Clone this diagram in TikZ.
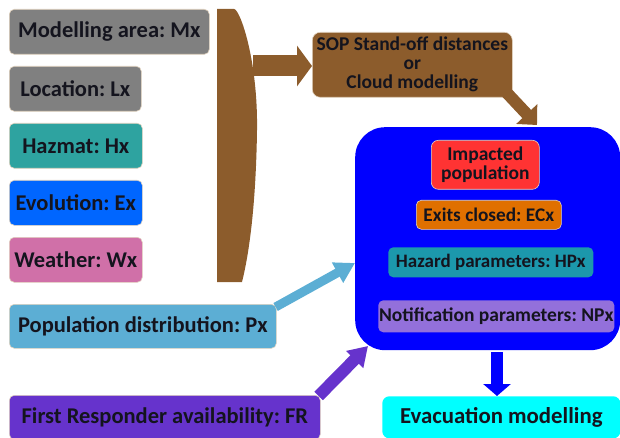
\documentclass[tikz,border=0pt]{standalone}
\usepackage{fontspec}
\setmainfont{Carlito}
\frenchspacing
\usetikzlibrary{arrows.meta,calc}
\definecolor{cgray}{RGB}{128,128,128}
\definecolor{cteal}{RGB}{46,163,160}
\definecolor{cevo}{RGB}{0,102,255}
\definecolor{cpink}{RGB}{208,112,168}
\definecolor{cpop}{RGB}{92,174,212}
\definecolor{cfr}{RGB}{102,51,204}
\definecolor{cbrown}{RGB}{140,92,44}
\definecolor{cbig}{RGB}{0,0,255}
\definecolor{cred}{RGB}{255,51,51}
\definecolor{corange}{RGB}{224,112,0}
\definecolor{chaz}{RGB}{28,152,172}
\definecolor{clav}{RGB}{147,112,219}
\definecolor{ccyan}{RGB}{0,255,255}
\definecolor{ctext}{RGB}{20,20,30}
\definecolor{cedge}{RGB}{225,210,190}
\tikzset{
  box/.style={draw=cedge, line width=0.6pt, rounded corners=5pt, inner sep=0pt,
    anchor=north west, text=ctext, font=\fontsize{22.5}{24}\selectfont\bfseries, align=center},
}
\begin{document}
\begin{tikzpicture}[x=1pt,y=-1pt]
\useasboundingbox (0,0) rectangle (620,438);
% left column
\node[box, fill=cgray, minimum width=200pt, minimum height=45pt] (ma) at (9,9) {Modelling area: Mx};
\node[box, fill=cgray, minimum width=132pt, minimum height=45pt] (lo) at (9,66) {Location: Lx};
\node[box, fill=cteal, minimum width=133pt, minimum height=45pt] (hz) at (9,123) {Hazmat: Hx};
\node[box, fill=cevo, minimum width=133pt, minimum height=45pt] (ev) at (9,180) {Evolution: Ex};
\node[box, fill=cpink, minimum width=133pt, minimum height=45pt] (we) at (9,237) {Weather: Wx};
\node[box, fill=cpop, minimum width=267pt, minimum height=44pt] (pd) at (9,304) {Population distribution: Px};
\node[box, fill=cfr, minimum width=311pt, minimum height=44pt] (fr) at (9,395) {First Responder availability: FR};
% bracket
\fill[cbrown] (217,282) -- (217,9) -- (234,9) .. controls (240,9) and (258,60) .. (257,130)
  .. controls (256,200) and (250,250) .. (242,282) -- cycle;
\coordinate (brk) at (253,66);
% SOP box
\node[box, fill=cbrown, minimum width=200pt, minimum height=65pt, rounded corners=8pt,
  font=\fontsize{19.5}{19}\selectfont\bfseries] (sop) at (312,32) {SOP Stand-off distances\\or\\Cloud modelling};
% big blue box
\node[draw=none, fill=cbig, rounded corners=30pt, anchor=north west, minimum width=265pt, minimum height=223pt, inner sep=0pt] (big) at (355,127) {};
\node[box, fill=cred, minimum width=108pt, minimum height=49pt, rounded corners=7pt,
  font=\fontsize{19.5}{19.5}\selectfont\bfseries] (ip) at (431,140) {Impacted\\population};
\node[box, fill=corange, minimum width=145pt, minimum height=29pt, font=\fontsize{19.3}{20}\selectfont\bfseries] (ec) at (416,200) {Exits closed: ECx};
\node[box, fill=chaz, draw=none, minimum width=205pt, minimum height=30pt, font=\fontsize{19}{20}\selectfont\bfseries] (hp) at (388,247) {Hazard parameters: HPx};
\node[box, fill=clav, draw=none, minimum width=236pt, minimum height=32pt, font=\fontsize{19.5}{20}\selectfont\bfseries] (np) at (378,300) {Notification parameters: NPx};
\node[box, fill=ccyan, draw=none, minimum width=238pt, minimum height=42pt, rounded corners=7pt, font=\fontsize{22.8}{24}\selectfont\bfseries] (em) at (382,396) {Evacuation modelling};
% arrows
\draw[cbrown, line width=21pt, -{Triangle[width=40pt,length=15pt]}] (brk) -- (sop.west |- brk);
\draw[cbrown, line width=12pt, -{Triangle[width=28pt,length=15pt]}] ($(sop.south east)+(-6,-5)$) -- (537,125);
\draw[cpop, line width=9pt, -{Triangle[width=22pt,length=20pt]}] ($(pd.north east)+(-1,3)$) -- (big.west |- 0,263);
\draw[cfr, line width=12pt, -{Triangle[width=23pt,length=19pt]}] ($(fr.north east)+(-2,1)$) -- (368,346);
\draw[cbig, line width=12pt, -{Triangle[width=27pt,length=12pt]}] (497,352) -- (em.north -| 497,0);
\end{tikzpicture}
\end{document}
